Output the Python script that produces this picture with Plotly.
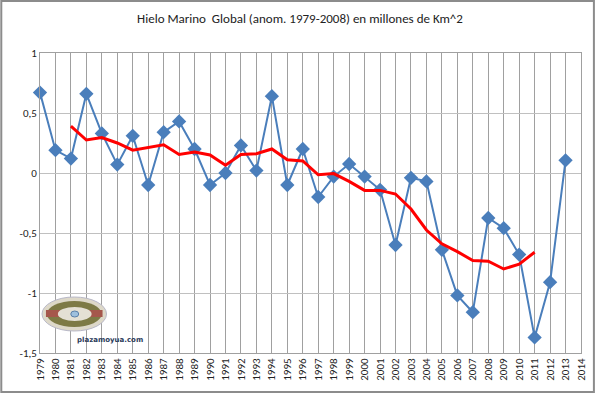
import plotly.graph_objects as go

years = list(range(1979, 2015))
anom_years = list(range(1979, 2014))
anomaly = [0.67, 0.19, 0.12, 0.66, 0.33, 0.07, 0.31, -0.10, 0.34, 0.43,
           0.20, -0.10, 0.00, 0.23, 0.02, 0.64, -0.10, 0.20, -0.20, -0.03,
           0.075, -0.03, -0.14, -0.60, -0.04, -0.07, -0.64, -1.02, -1.16, -0.375,
           -0.46, -0.68, -1.37, -0.91, 0.106]
ma_years = list(range(1981, 2012))
moving_avg = [0.39, 0.275, 0.295, 0.25, 0.19, 0.215, 0.235, 0.155, 0.175, 0.15,
              0.065, 0.155, 0.16, 0.20, 0.11, 0.10, -0.015, -0.005, -0.07, -0.145,
              -0.145, -0.175, -0.30, -0.475, -0.59, -0.655, -0.73, -0.735, -0.80, -0.76,
              -0.66]
y_tickvals = [1, 0.5, 0, -0.5, -1, -1.5]
y_ticktext = ["1", "0,5", "0", "-0,5", "-1", "-1,5"]
title = "Hielo Marino  Global (anom. 1979-2008) en millones de Km^2"

W, H = 600, 394
ML, MR, MT, MB = 40, 15, 53, 41
pw, ph = W - ML - MR, H - MT - MB

def px(x):  # pixel -> paper x
    return (x - ML) / pw

def py(y):  # pixel -> paper y
    return 1 - (y - MT) / ph

font = "Carlito, Lato, Arial"

fig = go.Figure()
fig.add_trace(go.Scatter(
    x=anom_years, y=anomaly, mode="lines+markers",
    line=dict(color="#4a7ebb", width=2),
    marker=dict(symbol="diamond", size=11, color="#4a7ebb"),
    showlegend=False, cliponaxis=False))
fig.add_trace(go.Scatter(
    x=ma_years, y=moving_avg, mode="lines",
    line=dict(color="#ff0000", width=3),
    showlegend=False))

shapes = [
    # outer chart frame
    dict(type="rect", xref="paper", yref="paper", x0=px(1), x1=px(598), y0=py(392), y1=py(1),
         line=dict(color="#8c8c8c", width=2), fillcolor="rgba(0,0,0,0)", layer="below"),
    # logo
    dict(type="circle", xref="paper", yref="paper", x0=px(42), x1=px(107), y0=py(331), y1=py(297),
         line=dict(color="#b8b8c8", width=1), fillcolor="#ddd8c8"),
    dict(type="circle", xref="paper", yref="paper", x0=px(47), x1=px(102), y0=py(327), y1=py(301),
         line=dict(width=0), fillcolor="#7d7a45"),
    dict(type="rect", xref="paper", yref="paper", x0=px(46), x1=px(62), y0=py(317), y1=py(310),
         line=dict(width=0), fillcolor="#a5574c"),
    dict(type="rect", xref="paper", yref="paper", x0=px(88), x1=px(103), y0=py(317), y1=py(310),
         line=dict(width=0), fillcolor="#a5574c"),
    dict(type="circle", xref="paper", yref="paper", x0=px(58), x1=px(92), y0=py(321), y1=py(307),
         line=dict(width=0), fillcolor="#e4e0d4"),
    dict(type="circle", xref="paper", yref="paper", x0=px(71), x1=px(79), y0=py(317), y1=py(311),
         line=dict(color="#5a7fa8", width=1), fillcolor="#9ec0dd"),
]

fig.update_layout(
    width=W, height=H,
    margin=dict(l=ML, r=MR, t=MT, b=MB),
    paper_bgcolor="white", plot_bgcolor="white",
    font=dict(family=font, size=11, color="#222"),
    title=dict(text=title, x=0.5, xanchor="center", y=1 - 18 / H, yanchor="middle",
               font=dict(family=font, size=13, color="#222")),
    xaxis=dict(range=[1979, 2014], tickmode="array", tickvals=years,
               ticktext=[str(y) for y in years], tickangle=-90,
               showgrid=True, gridcolor="#a0a0a0", gridwidth=1,
               showline=True, linecolor="#a0a0a0", mirror=True,
               zeroline=False, ticks="", tickfont=dict(size=11)),
    yaxis=dict(range=[-1.5, 1], tickmode="array", tickvals=y_tickvals, ticktext=y_ticktext,
               showgrid=True, gridcolor="#c0c0c0", gridwidth=1,
               showline=True, linecolor="#a0a0a0", mirror=True,
               zeroline=False, ticks="", tickfont=dict(size=11)),
    shapes=shapes,
    annotations=[dict(text="<b>plazamoyua.com</b>", xref="paper", yref="paper",
                      x=px(75), y=py(346), showarrow=False,
                      font=dict(size=7, color="#2a3a5a", family="DejaVu Sans"))],
)

fig.write_html("out.html", config={"displayModeBar": False},
               post_script="document.body.style.margin='0';")
